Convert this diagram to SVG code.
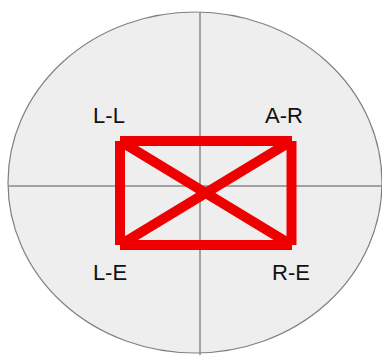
<svg xmlns="http://www.w3.org/2000/svg" width="382" height="355" viewBox="0 0 382 355">
<style>
.axis{stroke:#888;stroke-width:1.5;fill:none}
.red{stroke:#ee0000;stroke-width:10;stroke-linecap:butt;fill:none}
.lbl{font-family:"Liberation Sans",Arial,sans-serif;font-size:22px;fill:#111;text-anchor:middle}
</style>
<rect width="382" height="355" fill="#ffffff"/>
<g id="background">
<ellipse cx="195" cy="182.5" rx="187" ry="170.5" fill="#eeeeee" stroke="#808080" stroke-width="1.2"/>
<line class="axis" x1="200" y1="12" x2="200" y2="355"/>
<line class="axis" x1="8.5" y1="186" x2="382" y2="186"/>
</g>
<g id="connectors">
<line class="red" x1="120" y1="141" x2="292" y2="141"/>
<line class="red" x1="120" y1="141" x2="120" y2="245"/>
<line class="red" x1="291.5" y1="141" x2="291.5" y2="245"/>
<line class="red" x1="120" y1="245" x2="292" y2="245"/>
<line class="red" x1="120" y1="141" x2="291.5" y2="245"/>
<line class="red" x1="291.5" y1="141" x2="120" y2="245"/>
</g>
<g id="node-LL"><text class="lbl" x="109" y="123">L-L</text></g>
<g id="node-AR"><text class="lbl" x="284" y="123">A-R</text></g>
<g id="node-LE"><text class="lbl" x="110" y="280">L-E</text></g>
<g id="node-RE"><text class="lbl" x="291" y="280">R-E</text></g>
</svg>
